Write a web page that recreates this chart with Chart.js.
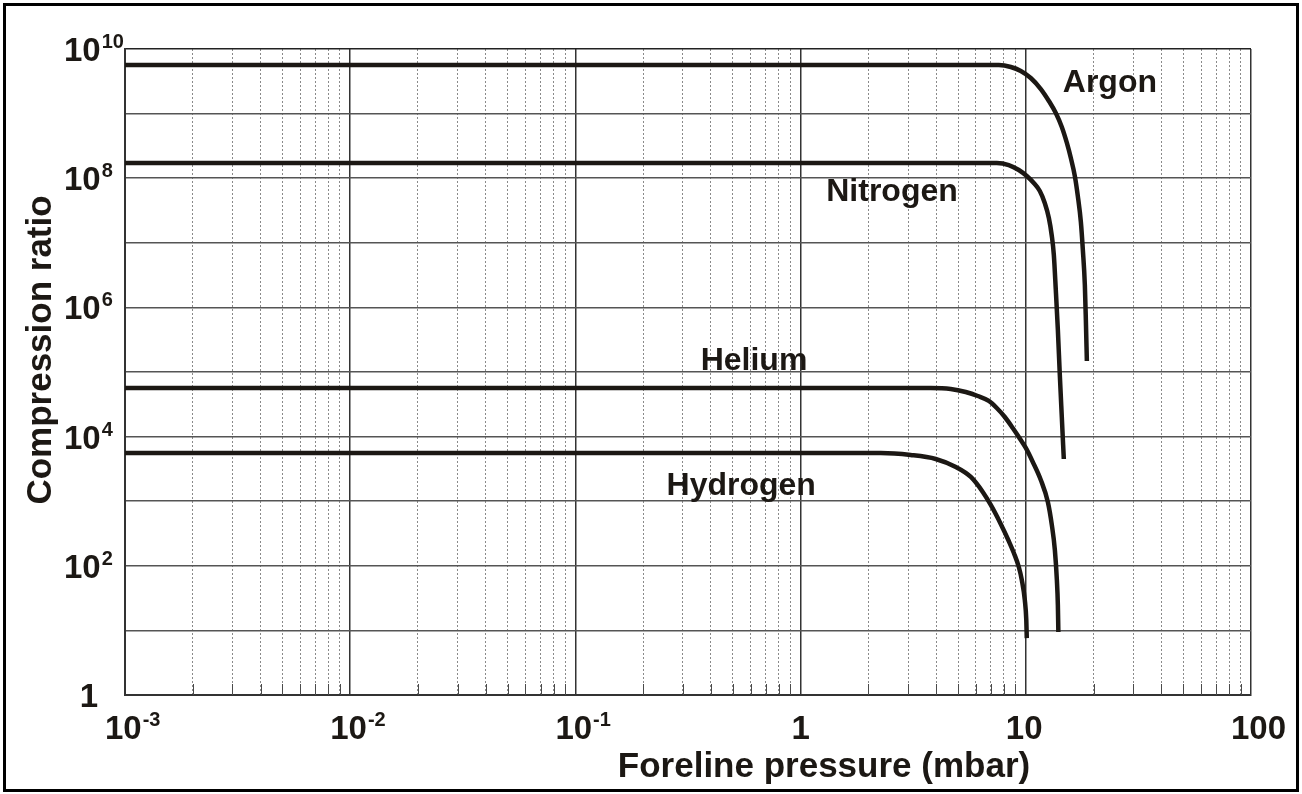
<!DOCTYPE html>
<html>
<head>
<meta charset="utf-8">
<script src="https://cdn.jsdelivr.net/npm/chart.js@4"></script>
<style>
  html, body { margin: 0; padding: 0; background: #fff; }
  #wrap { width: 1302px; height: 794px; position: relative; }
</style>
</head>
<body>
<div id="wrap"><canvas id="chart" width="1302" height="794"></canvas></div>
<script>
// Compression ratio vs foreline pressure for four gases
const argonPressure = [0.001, 7.59, 8.58, 9.50, 10.52, 11.66, 12.66, 13.59, 14.45, 15.22, 15.85, 16.51, 17.02, 17.56, 17.92, 18.29, 18.48, 18.67];
const argonRatio = [5.65e9, 5.65e9, 5.27e9, 4.57e9, 3.56e9, 2.40e9, 1.57e9, 1.02e9, 6.2e8, 3.51e8, 2.05e8, 1.08e8, 5.3e7, 2.1e7, 7.74e6, 2.22e6, 6.38e5, 1.48e5];

const nitrogenPressure = [0.001, 7.43, 8.40, 9.31, 10.10, 10.85, 11.54, 12.14, 12.66, 13.05, 13.32, 13.59, 13.88, 14.16, 14.45, 14.75];
const nitrogenRatio = [1.72e8, 1.72e8, 1.60e8, 1.34e8, 1.08e8, 8.43e7, 6.34e7, 4.13e7, 2.42e7, 1.27e7, 6.47e6, 1.86e6, 4.47e5, 8.99e4, 2.01e4, 4.5e3];

const heliumPressure = [0.001, 3.78, 4.64, 5.41, 6.12, 6.85, 7.43, 8.07, 8.75, 9.31, 10, 10.74, 11.66, 12.53, 13.05, 13.46, 13.74, 13.88, 13.95];
const heliumRatio = [5.65e4, 5.65e4, 5.46e4, 4.90e4, 4.25e4, 3.56e4, 2.77e4, 2.01e4, 1.36e4, 9.86e3, 6.67e3, 4.05e3, 2.13e3, 973, 428, 176, 60, 24.7, 9.44];

const hydrogenPressure = [0.001, 2.27, 3.08, 3.98, 4.89, 5.70, 6.44, 6.99, 7.74, 8.40, 8.85, 9.31, 9.60, 9.90, 10.05, 10.10];
const hydrogenRatio = [5.57e3, 5.57e3, 5.19e3, 4.50e3, 3.38e3, 2.37e3, 1.39e3, 874, 444, 242, 158, 95.8, 60.3, 29.6, 14.5, 7.6];

// Gas names, placed at (pressure, ratio)
const gasNames = ['Argon', 'Nitrogen', 'Helium', 'Hydrogen'];
const namePressure = [14.6, 1.3, 0.36, 0.254];
const nameRatio = [2.16e9, 4.4e7, 1.07e5, 1.25e3];

// Axis decades and their labels
const xDecades = [-3, -2, -1, 0, 1, 2];
const xDecadeLabels = [['10', '-3'], ['10', '-2'], ['10', '-1'], ['1', ''], ['10', ''], ['100', '']];
const yDecades = [0, 1, 2, 3, 4, 5, 6, 7, 8, 9, 10];
const yLabelled = [0, 2, 4, 6, 8, 10];

const INK = '#1c1814';
const FAMILY = '"Liberation Sans", Arial, sans-serif';
const baseFont = 'bold 33px ' + FAMILY;
const expFont = 'bold 20px ' + FAMILY;
const titleFont = 'bold 35px ' + FAMILY;
const nameFont = 'bold 32px ' + FAMILY;

function toPoints(xs, ys) {
    return xs.map((x, i) => ({ x: x, y: ys[i] }));
}

function isDecade(v) {
    const l = Math.log10(v);
    return Math.abs(l - Math.round(l)) < 1e-6;
}

function curve(data) {
    return {
        data: data,
        borderColor: INK,
        borderWidth: 4.5,
        borderCapStyle: 'butt',
        borderJoinStyle: 'round',
        pointRadius: 0,
        showLine: true,
        fill: false,
        cubicInterpolationMode: 'monotone'
    };
}

// Draw a base number with a raised exponent, left edge at x
function drawPower(ctx, base, exp, left, y) {
    ctx.textAlign = 'left';
    ctx.textBaseline = 'alphabetic';
    ctx.font = baseFont;
    ctx.fillText(base, left, y);
    if (exp) {
        const bw = ctx.measureText(base).width;
        ctx.font = expFont;
        ctx.fillText(exp, left + bw + 1, y - 13);
    }
}

const decorPlugin = {
    id: 'decor',
    afterDraw(chart) {
        const ctx = chart.ctx;
        const xs = chart.scales.x;
        const ys = chart.scales.y;
        const area = chart.chartArea;
        ctx.save();

        // short solid ticks inside the bottom axis on the minor lines
        ctx.strokeStyle = '#4a4a4a';
        ctx.lineWidth = 1;
        xs.ticks.forEach(t => {
            if (isDecade(t.value)) return;
            const px = Math.round(xs.getPixelForValue(t.value)) + 0.5;
            ctx.beginPath();
            ctx.moveTo(px, area.bottom);
            ctx.lineTo(px, area.bottom - 11);
            ctx.stroke();
        });

        ctx.fillStyle = INK;

        // x tick labels
        xDecades.forEach((e, i) => {
            const px = xs.getPixelForValue(Math.pow(10, e));
            const [base, exp] = xDecadeLabels[i];
            if (base === '1') {
                ctx.font = baseFont;
                drawPower(ctx, base, exp, px - ctx.measureText(base).width / 2, 739);
            } else {
                drawPower(ctx, base, exp, px - 20, 739);
            }
        });

        // y tick labels
        yLabelled.forEach(e => {
            const py = ys.getPixelForValue(Math.pow(10, e));
            const baseline = Math.max(py + 12, 55);
            if (e === 0) {
                ctx.font = baseFont;
                drawPower(ctx, '1', '', 98 - ctx.measureText('1').width, baseline);
            } else {
                drawPower(ctx, '10', String(e), 64, baseline);
            }
        });

        // axis titles
        ctx.font = titleFont;
        ctx.textAlign = 'center';
        ctx.textBaseline = 'alphabetic';
        ctx.fillText('Foreline pressure (mbar)', 824, 777);
        ctx.save();
        ctx.translate(51, 350);
        ctx.rotate(-Math.PI / 2);
        ctx.fillText('Compression ratio', 0, 0);
        ctx.restore();

        // gas names
        ctx.font = nameFont;
        ctx.textAlign = 'left';
        gasNames.forEach((name, i) => {
            ctx.fillText(name, xs.getPixelForValue(namePressure[i]), ys.getPixelForValue(nameRatio[i]));
        });

        // outer frame
        ctx.strokeStyle = '#000';
        ctx.lineWidth = 3;
        ctx.strokeRect(4.5, 4.5, 1293, 786);
        ctx.restore();
    }
};

new Chart(document.getElementById('chart'), {
    type: 'scatter',
    data: {
        datasets: [
            curve(toPoints(argonPressure, argonRatio)),
            curve(toPoints(nitrogenPressure, nitrogenRatio)),
            curve(toPoints(heliumPressure, heliumRatio)),
            curve(toPoints(hydrogenPressure, hydrogenRatio))
        ]
    },
    options: {
        responsive: false,
        animation: false,
        events: [],
        layout: { padding: { left: 125, top: 49, right: 51, bottom: 99 } },
        plugins: {
            legend: { display: false },
            tooltip: { enabled: false }
        },
        scales: {
            x: {
                type: 'logarithmic',
                min: 0.001,
                max: 100,
                afterBuildTicks: scale => {
                    const ticks = [];
                    xDecades.forEach(e => {
                        for (let m = 1; m <= 9; m++) {
                            const v = m * Math.pow(10, e);
                            if (v <= 100.0001) ticks.push({ value: v });
                        }
                    });
                    scale.ticks = ticks;
                },
                ticks: { display: false },
                grid: {
                    drawTicks: false,
                    color: c => (c.tick && isDecade(c.tick.value)) ? '#333' : '#8a8a8a',
                    lineWidth: c => (c.tick && isDecade(c.tick.value)) ? 1.5 : 1
                },
                border: {
                    display: true,
                    color: '#333',
                    width: 2,
                    dash: c => (c.tick && !isDecade(c.tick.value)) ? [2, 2] : []
                }
            },
            y: {
                type: 'logarithmic',
                min: 1,
                max: 1e10,
                afterBuildTicks: scale => {
                    scale.ticks = yDecades.map(e => ({ value: Math.pow(10, e) }));
                },
                ticks: { display: false },
                grid: {
                    drawTicks: false,
                    color: c => (c.tick && c.tick.value >= 1e10) ? '#222' : '#555',
                    lineWidth: 1.5
                },
                border: { display: true, color: '#333', width: 2 }
            }
        }
    },
    plugins: [decorPlugin]
});
</script>
</body>
</html>
